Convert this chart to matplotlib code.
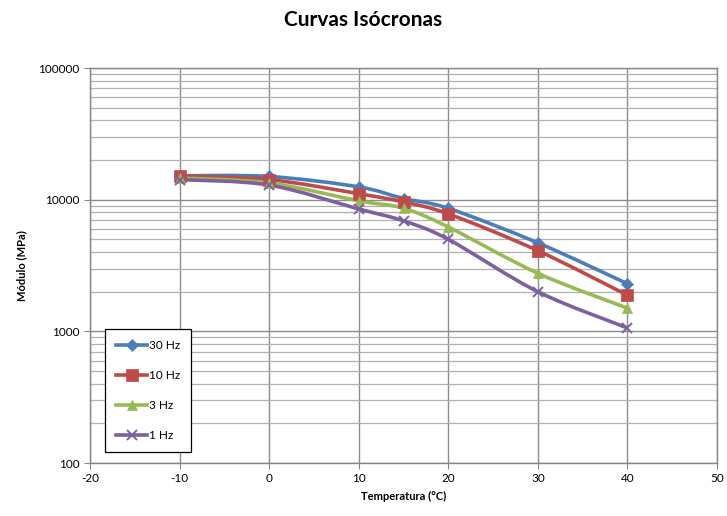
#!/usr/bin/env python3
import numpy as np
import matplotlib
matplotlib.use('Agg')
import matplotlib.pyplot as plt
from matplotlib.path import Path
from matplotlib.patches import PathPatch
from matplotlib.lines import Line2D
from matplotlib.ticker import LogLocator, FixedLocator, NullFormatter

# data
temps = [-10, 0, 10, 15, 20, 30, 40]
mod_30hz = [15200, 15000, 12500, 10200, 8600, 4700, 2300]
mod_10hz = [15100, 14200, 11100, 9600, 7800, 4100, 1880]
mod_3hz = [14600, 13400, 9800, 8600, 6200, 2760, 1500]
mod_1hz = [14200, 12900, 8500, 6900, 5000, 2000, 1060]
labels = ['30 Hz', '10 Hz', '3 Hz', '1 Hz']

series = [mod_30hz, mod_10hz, mod_3hz, mod_1hz]
colors = ['#4A7EBB', '#BE4B48', '#98B954', '#7D60A0']
markers = ['D', 's', '^', 'x']
msizes = [6, 8, 7, 7]

plt.rcParams['font.family'] = ['Lato', 'DejaVu Sans']
plt.rcParams['axes.unicode_minus'] = False


def smooth_path(x, y, tension=0.5):
    "Excel-like smoothed line as cubic bezier (control points in x / log y)"
    x = np.asarray(x, float)
    ly = np.log10(np.asarray(y, float))
    n = len(x)
    verts = [(x[0], ly[0])]
    codes = [Path.MOVETO]
    for i in range(n - 1):
        p0 = (x[max(i - 1, 0)], ly[max(i - 1, 0)])
        p1 = (x[i], ly[i])
        p2 = (x[i + 1], ly[i + 1])
        p3 = (x[min(i + 2, n - 1)], ly[min(i + 2, n - 1)])
        c1 = (p1[0] + (p2[0] - p0[0]) * tension / 3, p1[1] + (p2[1] - p0[1]) * tension / 3)
        c2 = (p2[0] - (p3[0] - p1[0]) * tension / 3, p2[1] - (p3[1] - p1[1]) * tension / 3)
        verts += [c1, c2, p2]
        codes += [Path.CURVE4] * 3
    verts = [(vx, 10 ** vy) for vx, vy in verts]
    return Path(verts, codes)


fig = plt.figure(figsize=(7.27, 5.16), dpi=100)
ax = fig.add_axes([90 / 727, 1 - 463 / 516, 627 / 727, 395 / 516])
ax.set_yscale('log')
ax.set_xlim(-20, 50)
ax.set_ylim(100, 100000)

ax.xaxis.set_major_locator(FixedLocator(range(-20, 51, 10)))
ax.yaxis.set_major_locator(FixedLocator([100, 1000, 10000, 100000]))
ax.yaxis.set_minor_locator(LogLocator(base=10, subs=np.arange(2, 10)))
ax.yaxis.set_minor_formatter(NullFormatter())
ax.set_yticklabels(['100', '1000', '10000', '100000'])
ax.grid(True, which='major', color='#8c8c8c', linewidth=1.0)
ax.grid(True, which='minor', axis='y', color='#b0b0b0', linewidth=0.9)
ax.set_axisbelow(True)
ax.tick_params(axis='both', which='major', labelsize=8.5, length=4, color='#868686', direction='out')
ax.tick_params(axis='y', which='minor', length=0)
for s in ax.spines.values():
    s.set_color('#868686')
    s.set_linewidth(1.0)

handles = []
for vals, c, m, ms, lab in zip(series, colors, markers, msizes, labels):
    ax.add_patch(PathPatch(smooth_path(temps, vals), facecolor='none',
                           edgecolor=c, linewidth=2.6, zorder=3))
    mew = 1.4 if m == 'x' else 0.5
    ax.plot(temps, vals, linestyle='none', marker=m, markersize=ms, color=c,
            markeredgecolor=c, markeredgewidth=mew, zorder=4)
    handles.append(Line2D([], [], color=c, linewidth=2.6, marker=m, markersize=ms,
                          markeredgewidth=mew, label=lab))

leg = ax.legend(handles=handles, loc='lower left', bbox_to_anchor=(0.024, 0.027),
                fontsize=8.5, frameon=True, fancybox=False, edgecolor='black',
                framealpha=1, handlelength=2.6, labelspacing=1.6, borderpad=0.95,
                handletextpad=0.15, borderaxespad=0)
leg.get_frame().set_linewidth(0.9)

ax.set_xlabel('Temperatura (°C)', fontsize=8, fontweight='bold', labelpad=5)
ax.set_ylabel('Módulo (MPa)', fontsize=8, fontweight='bold', labelpad=8)
fig.text(0.5, 1 - 20 / 516, 'Curvas Isócronas', ha='center', va='center',
         fontsize=15, fontweight='bold')

fig.savefig('out.png', dpi=100)
